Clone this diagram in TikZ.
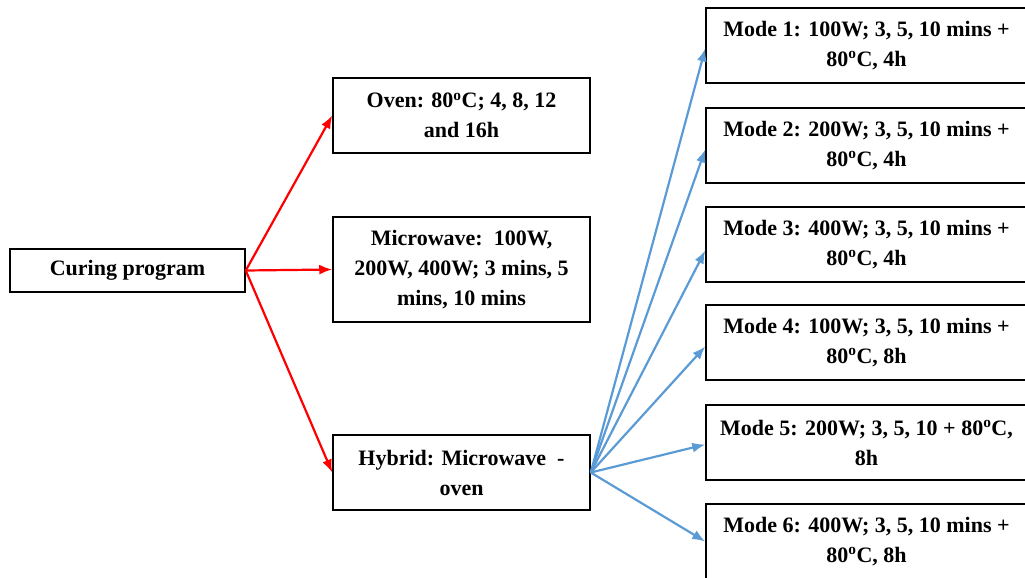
\documentclass[tikz,border=0pt]{standalone}
\usepackage{fontspec}
\setmainfont{Liberation Serif}
\usetikzlibrary{arrows.meta}
\definecolor{modeblue}{RGB}{91,155,213}

\begin{document}
\begin{tikzpicture}[x=1pt, y=-1pt,
	box/.style={draw, line width=1.5pt, align=center, inner sep=0pt, font=\fontsize{22}{30}\selectfont\bfseries},
	midbox/.style={box, minimum width=257pt},
	modebox/.style={box, minimum width=321pt, minimum height=75pt},
	redarrow/.style={-{Latex[length=13pt, width=10pt]}, red, line width=2.2pt},
	bluearrow/.style={-{Latex[length=13pt, width=10pt]}, modeblue, line width=2.2pt}]

	\useasboundingbox (0,0) rectangle (1025,578);

	\node (cure)[box, minimum width=235pt, minimum height=43pt] at (127.5,270.5) {Curing program};

	\node (oven)[midbox, minimum height=75pt] at (461.5,115.5) {
		Oven: 80\textsuperscript{o}C; 4, 8, 12\\
		and 16h};
	\node (micro)[midbox, minimum height=105pt] at (461.5,269.5) {
		Microwave:\ \ 100W,\\
		200W, 400W; 3 mins, 5\\
		mins, 10 mins};
	\node (hybrid)[midbox, minimum height=75pt] at (461.5,472.5) {
		Hybrid: Microwave\ \ -\\
		oven};

	\node (m1)[modebox] at (866.5,45.5) {
		Mode 1: 100W; 3, 5, 10 mins +\\
		80\textsuperscript{o}C, 4h};
	\node (m2)[modebox] at (866.5,145.5) {
		Mode 2: 200W; 3, 5, 10 mins +\\
		80\textsuperscript{o}C, 4h};
	\node (m3)[modebox] at (866.5,244.5) {
		Mode 3: 400W; 3, 5, 10 mins +\\
		80\textsuperscript{o}C, 4h};
	\node (m4)[modebox] at (866.5,342.5) {
		Mode 4: 100W; 3, 5, 10 mins +\\
		80\textsuperscript{o}C, 8h};
	\node (m5)[modebox] at (866.5,442.5) {
		Mode 5: 200W; 3, 5, 10 + 80\textsuperscript{o}C,\\
		8h};
	\node (m6)[modebox] at (866.5,541.5) {
		Mode 6: 400W; 3, 5, 10 mins +\\
		80\textsuperscript{o}C, 8h};

	\draw [redarrow](cure.east)--(oven.west);
	\draw [redarrow](cure.east)--(micro.west);
	\draw [redarrow](cure.east)--(hybrid.west);

	\draw [bluearrow](hybrid.east)--([yshift=-3pt]m1.west);
	\draw [bluearrow](hybrid.east)--([yshift=-4pt]m2.west);
	\draw [bluearrow](hybrid.east)--([yshift=-6pt]m3.west);
	\draw [bluearrow](hybrid.east)--([yshift=-4pt]m4.west);
	\draw [bluearrow](hybrid.east)--([yshift=-2pt]m5.west);
	\draw [bluearrow](hybrid.east)--(m6.west);
\end{tikzpicture}
\end{document}
